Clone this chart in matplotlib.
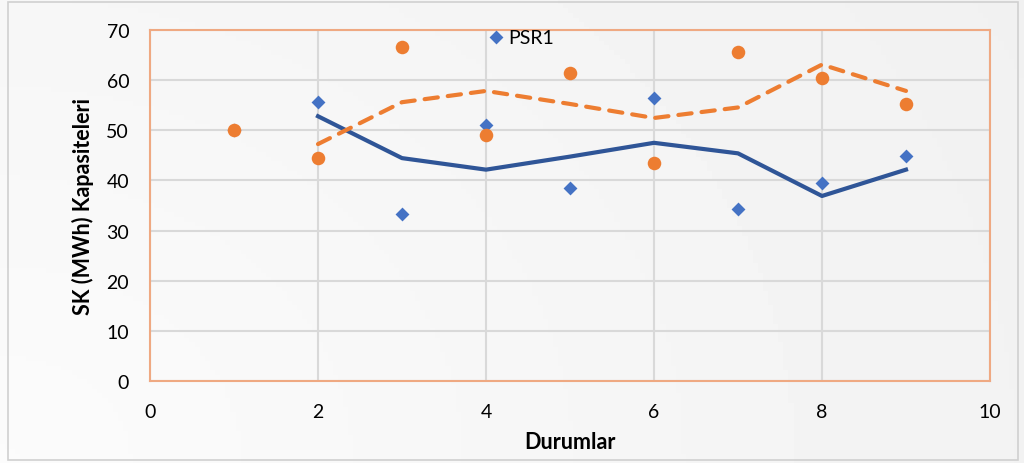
import matplotlib
matplotlib.use("Agg")
import matplotlib.pyplot as plt
import numpy as np
from matplotlib.patches import Rectangle

# Data
durumlar = [1, 2, 3, 4, 5, 6, 7, 8, 9]
psr1 = [50.0, 55.6, 33.3, 51.0, 38.5, 56.5, 34.3, 39.5, 44.8]
psr2 = [50.0, 44.5, 66.7, 49.0, 61.5, 43.4, 65.7, 60.5, 55.2]
# Moving-average trend lines
trend_x = [2, 3, 4, 5, 6, 7, 8, 9]
psr1_trend = [52.8, 44.45, 42.15, 44.75, 47.5, 45.4, 36.9, 42.15]
psr2_trend = [47.25, 55.6, 57.85, 55.25, 52.45, 54.55, 63.1, 57.85]

xticks = [0, 2, 4, 6, 8, 10]
yticks = [0, 10, 20, 30, 40, 50, 60, 70]

plt.rcParams['font.family'] = ['Lato', 'DejaVu Sans']

fig = plt.figure(figsize=(10.24, 4.64), dpi=100)
fig.patch.set_facecolor('#f7f7f7')

# background gradient
bg = fig.add_axes([0, 0, 1, 1], zorder=-10)
gx, gy = np.meshgrid(np.linspace(0, 1, 200), np.linspace(0, 1, 100))
grad = 0.985 - 0.04 * np.clip(np.sqrt((gx * 0.9) ** 2 + ((1 - gy) * 0.5) ** 2), 0, 1)
bg.imshow(grad, cmap='gray', vmin=0, vmax=1, aspect='auto', extent=[0, 1, 0, 1], origin='upper')
bg.set_axis_off()
bg.add_patch(Rectangle((8 / 1024, 3 / 464), 1010 / 1024, 458 / 464, transform=bg.transAxes,
                       fill=False, edgecolor='#d0d0d0', linewidth=1.2))
bg.set_xlim(0, 1)
bg.set_ylim(0, 1)

ax = fig.add_axes([150 / 1024, 82 / 464, 840 / 1024, 351 / 464])
ax.set_facecolor('none')

ax.plot(trend_x, psr1_trend, color='#2f5597', linewidth=3.0, zorder=3)
ax.plot(trend_x, psr2_trend, color='#ed7d31', linewidth=3.0, linestyle=(0, (3.2, 2.4)),
        dash_capstyle='round', zorder=3)
ax.scatter(durumlar, psr1, marker='D', s=50, color='#4472c4', zorder=4, label='PSR1', linewidths=0)
ax.scatter(durumlar, psr2, marker='o', s=95, color='#ed7d31', zorder=5, linewidths=0)

ax.set_xlim(0, 10)
ax.set_ylim(0, 70)
ax.set_xticks(xticks)
ax.set_yticks(yticks)
ax.grid(True, color='#d9d9d9', linewidth=1.5)
ax.set_axisbelow(True)
ax.tick_params(axis='y', length=0, labelsize=14, colors='black', pad=15)
ax.tick_params(axis='x', length=0, labelsize=14, colors='black', pad=16)
for s in ax.spines.values():
    s.set_color('#efa982')
    s.set_linewidth(1.5)

ax.set_xlabel('Durumlar', fontsize=15.5, fontweight='bold', labelpad=8)
ax.set_ylabel('SK (MWh) Kapasiteleri', fontsize=15.5, fontweight='bold', labelpad=9)

leg = ax.legend(loc='center left', bbox_to_anchor=(0.402, 0.98), frameon=False, fontsize=14,
                handletextpad=0.15, borderaxespad=0, borderpad=0, handlelength=0.9)

fig.savefig('out.png', dpi=100, facecolor=fig.get_facecolor())
